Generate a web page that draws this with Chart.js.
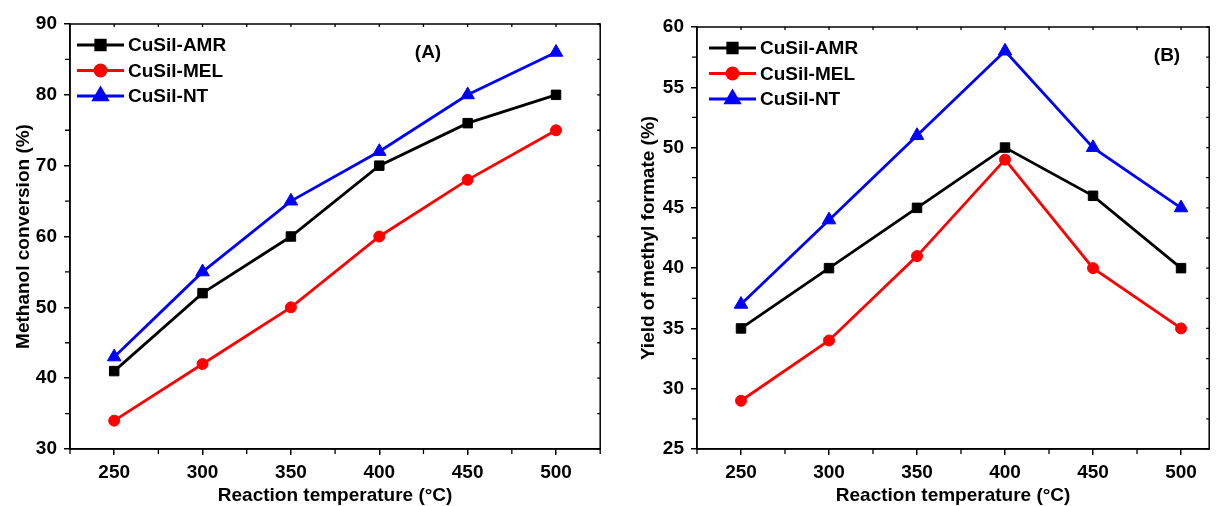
<!DOCTYPE html>
<html>
<head>
<meta charset="utf-8">
<script src="https://cdn.jsdelivr.net/npm/chart.js@4.4.1/dist/chart.umd.min.js"></script>
<style>
  html, body { margin: 0; padding: 0; background: #fff; }
  #wrap { position: relative; width: 1218px; height: 506px; }
  canvas { position: absolute; top: 0; }
  #chartA { left: 0; }
  #chartB { left: 609px; }
</style>
</head>
<body>
<div id="wrap">
  <canvas id="chartA" width="609" height="506"></canvas>
  <canvas id="chartB" width="609" height="506"></canvas>
</div>
<script>
// reaction temperatures (°C)
const temperatures = [250, 300, 350, 400, 450, 500];
const seriesNames = ['CuSil-AMR', 'CuSil-MEL', 'CuSil-NT'];

// (A) methanol conversion, %
const conversionAMR = [41, 52, 60, 70, 76, 80];
const conversionMEL = [34, 42, 50, 60, 68, 75];
const conversionNT  = [43, 55, 65, 72, 80, 86];

// (B) yield of methyl formate, %
const yieldAMR = [35, 40, 45, 50, 46, 40];
const yieldMEL = [29, 34, 41, 49, 40, 35];
const yieldNT  = [37, 44, 51, 58, 50, 45];

// tick labels
const xTicks = [250, 300, 350, 400, 450, 500];
const xMinorTicks = [225, 275, 325, 375, 425, 475, 525];
const yTicksA = [30, 40, 50, 60, 70, 80, 90];
const yMinorTicksA = [35, 45, 55, 65, 75, 85];
const yTicksB = [25, 30, 35, 40, 45, 50, 55, 60];
const yMinorTicksB = [27.5, 32.5, 37.5, 42.5, 47.5, 52.5, 57.5];

const FONT = '"Liberation Sans", Arial, sans-serif';
const seriesStyle = [
    { color: '#000000', pointStyle: 'rect', radius: 6.7 },
    { color: '#ff0000', pointStyle: 'circle', radius: 5.5 },
    { color: '#0000ff', pointStyle: 'triangle', radius: 7.8 }
];

const toPoints = (values) => temperatures.map((t, i) => ({ x: t, y: values[i] }));

const buildDatasets = (seriesValues) => seriesValues.map((values, i) => ({
    label: seriesNames[i],
    data: toPoints(values),
    borderColor: seriesStyle[i].color,
    backgroundColor: seriesStyle[i].color,
    pointBackgroundColor: seriesStyle[i].color,
    pointBorderColor: seriesStyle[i].color,
    pointStyle: seriesStyle[i].pointStyle,
    pointRadius: seriesStyle[i].radius,
    pointBorderWidth: 1,
    borderWidth: 2.8,
    tension: 0
}));

// frame, minor ticks, inner legend and panel letter
const framePlugin = {
    id: 'frame',
    afterDraw(chart, args, opts) {
        const ctx = chart.ctx;
        const a = chart.chartArea;
        const xs = chart.scales.x, ys = chart.scales.y;
        ctx.save();
        ctx.strokeStyle = '#000';
        ctx.lineWidth = 1.5;
        ctx.strokeRect(a.left, a.top, a.right - a.left, a.bottom - a.top);

        ctx.lineWidth = 1.3;
        ctx.beginPath();
        xMinorTicks.forEach(v => {
            if (v < xs.min || v > xs.max) return;
            const px = xs.getPixelForValue(v);
            ctx.moveTo(px, a.bottom); ctx.lineTo(px, a.bottom + 5);
        });
        opts.yMinor.forEach(v => {
            const py = ys.getPixelForValue(v);
            ctx.moveTo(a.left, py); ctx.lineTo(a.left - 5, py);
        });
        // small inward ticks on the top and right edges
        xTicks.concat(xMinorTicks).forEach(v => {
            if (v < xs.min || v > xs.max) return;
            const px = xs.getPixelForValue(v);
            ctx.moveTo(px, a.top); ctx.lineTo(px, a.top + 3);
        });
        opts.yMajor.concat(opts.yMinor).forEach(v => {
            const py = ys.getPixelForValue(v);
            ctx.moveTo(a.right, py); ctx.lineTo(a.right - 3, py);
        });
        ctx.stroke();

        // legend inside the plot
        ctx.font = 'bold 19px ' + FONT;
        ctx.textBaseline = 'middle';
        ctx.textAlign = 'left';
        chart.data.datasets.forEach((ds, i) => {
            const y = a.top + opts.legendTop + i * 25.5;
            const x0 = a.left + opts.legendLeft;
            ctx.strokeStyle = ds.borderColor;
            ctx.lineWidth = 2.8;
            ctx.beginPath();
            ctx.moveTo(x0, y); ctx.lineTo(x0 + 47, y);
            ctx.stroke();
            ctx.fillStyle = ds.borderColor;
            Chart.helpers.drawPoint(ctx, {
                pointStyle: ds.pointStyle, radius: ds.pointRadius, rotation: 0, borderWidth: 1
            }, x0 + 23.5, y);
            ctx.fillStyle = '#000';
            ctx.fillText(ds.label, x0 + 51, y + 1);
        });

        ctx.font = 'bold 19px ' + FONT;
        ctx.textAlign = 'center';
        ctx.fillStyle = '#000';
        ctx.fillText(opts.letter, opts.letterX, opts.letterY);
        ctx.restore();
    }
};

const makeChart = (id, cfg) => {
    const axisFont = { family: FONT, size: 19, weight: 'bold' };
    return new Chart(document.getElementById(id), {
        type: 'line',
        data: { datasets: buildDatasets(cfg.series) },
        plugins: [framePlugin],
        options: {
            responsive: false,
            animation: false,
            events: [],
            layout: { padding: { left: 0, right: cfg.padRight, top: cfg.top, bottom: 0 } },
            plugins: {
                legend: { display: false },
                tooltip: { enabled: false },
                frame: cfg.frame
            },
            scales: {
                x: {
                    type: 'linear',
                    min: 225,
                    max: cfg.xMax,
                    afterBuildTicks: (s) => { s.ticks = xTicks.map(v => ({ value: v })); },
                    afterFit: (s) => { s.height = 506 - cfg.bottom; },
                    ticks: { font: axisFont, color: '#000', padding: 6, maxRotation: 0 },
                    grid: { drawOnChartArea: false, tickLength: 6, color: '#000', lineWidth: 1.5 },
                    border: { color: '#000', width: 1.5 },
                    title: {
                        display: true,
                        text: 'Reaction temperature (°C)',
                        font: { family: FONT, size: 19, weight: 'bold', lineHeight: 1.05 },
                        color: '#000',
                        padding: 0
                    }
                },
                y: {
                    min: cfg.yTicks[0],
                    max: cfg.yTicks[cfg.yTicks.length - 1],
                    afterBuildTicks: (s) => { s.ticks = cfg.yTicks.map(v => ({ value: v })); },
                    afterFit: (s) => { s.width = cfg.left; },
                    ticks: { font: axisFont, color: '#000', padding: 7 },
                    grid: { drawOnChartArea: false, tickLength: 6, color: '#000', lineWidth: 1.5 },
                    border: { color: '#000', width: 1.5 },
                    title: {
                        display: true,
                        text: cfg.yTitle,
                        font: axisFont,
                        color: '#000',
                        padding: { top: cfg.yTitlePad, bottom: 0 }
                    }
                }
            }
        }
    });
};

makeChart('chartA', {
    series: [conversionAMR, conversionMEL, conversionNT],
    yTicks: yTicksA,
    yTitle: 'Methanol conversion (%)',
    xMax: 525,
    left: 70, top: 24, bottom: 449, padRight: 8,
    yTitlePad: 12,
    frame: { yMajor: yTicksA, yMinor: yMinorTicksA, legendLeft: 7, legendTop: 21,
             letter: '(A)', letterX: 428, letterY: 53 }
});

makeChart('chartB', {
    series: [yieldAMR, yieldMEL, yieldNT],
    yTicks: yTicksB,
    yTitle: 'Yield of methyl formate (%)',
    xMax: 516,
    left: 88, top: 27, bottom: 449, padRight: 3,
    yTitlePad: 28,
    frame: { yMajor: yTicksB, yMinor: yMinorTicksB, legendLeft: 12, legendTop: 21,
             letter: '(B)', letterX: 558, letterY: 56 }
});
</script>
</body>
</html>
